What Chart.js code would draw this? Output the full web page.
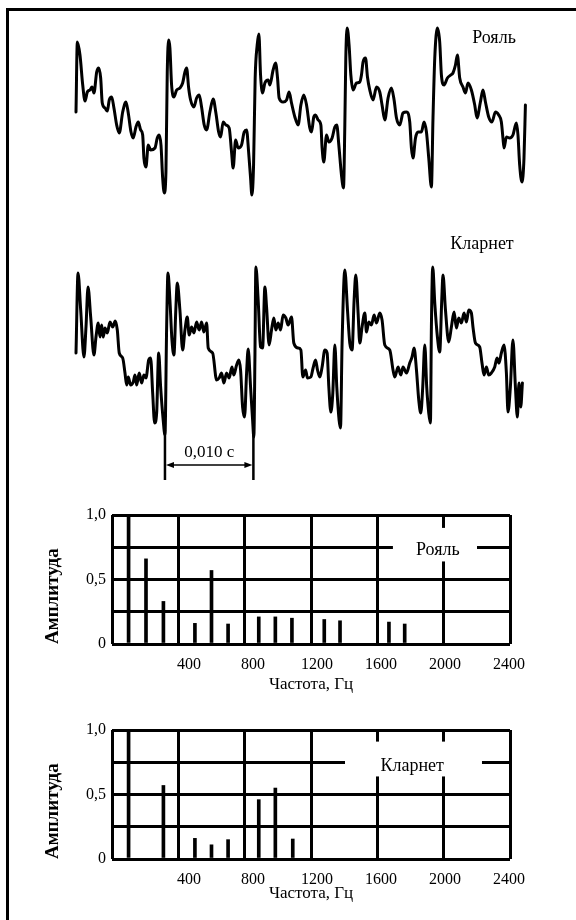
<!DOCTYPE html>
<html>
<head>
<meta charset="utf-8">
<script src="https://cdn.jsdelivr.net/npm/chart.js@4.4.0/dist/chart.umd.min.js"></script>
<style>
  body { margin: 0; width: 576px; height: 920px; overflow: hidden; background: #fff; position: relative; font-family: "Liberation Serif", serif; }
  canvas { position: absolute; }
  #frame { position: absolute; left: 6px; top: 8px; width: 600px; height: 950px; border-top: 3px solid #000; border-left: 3px solid #000; }
  .lbl { position: absolute; font-size: 18px; line-height: 18px; color: #000; transform: translate(-50%, -50%); white-space: nowrap; }
</style>
</head>
<body>
<div id="frame"></div>
<canvas id="pianoWave" width="472" height="200" style="left:66px;top:12px"></canvas>
<canvas id="clarWave" width="472" height="240" style="left:66px;top:250px"></canvas>
<canvas id="pianoSpec" width="576" height="210" style="left:0;top:495px"></canvas>
<canvas id="clarSpec" width="576" height="210" style="left:0;top:710px"></canvas>
<div class="lbl" style="left:494px;top:37px">Рояль</div>
<div class="lbl" style="left:482px;top:243px">Кларнет</div>
<script>
// Waveforms: time in ms, amplitude in arbitrary units
const pianoTime = [0.00,0.15,0.45,0.76,1.02,1.28,1.58,1.81,2.03,2.34,2.57,2.79,2.97,3.28,3.54,3.76,4.03,4.29,4.60,4.89,5.28,5.65,5.91,6.22,6.47,6.78,7.04,7.31,7.54,7.68,7.91,8.17,8.44,8.93,9.19,9.41,9.61,9.80,9.98,10.17,10.32,10.48,
  10.62,10.81,11.07,11.38,11.75,12.06,12.32,12.51,12.74,12.96,13.33,13.64,13.93,14.20,14.50,14.77,15.14,15.51,15.82,16.13,16.35,16.64,16.95,17.32,17.59,17.77,18.05,18.34,18.72,19.02,19.29,19.52,19.74,19.89,20.08,20.26,20.49,20.68,
  20.87,21.10,21.36,21.73,21.92,22.29,22.57,22.79,22.97,23.42,23.81,24.10,24.37,24.75,25.12,25.43,25.76,26.07,26.44,26.63,26.89,27.09,27.38,27.69,27.83,28.02,28.33,28.59,28.96,29.27,29.49,29.72,30.02,30.25,30.40,30.51,30.66,
  30.88,31.08,31.33,31.72,32.09,32.28,32.46,32.74,32.96,33.22,33.59,33.98,34.35,34.61,34.92,35.29,35.67,35.97,36.24,36.61,36.98,37.37,37.74,37.93,38.11,38.39,38.68,39.06,39.36,39.63,39.89,40.19,40.37,40.57,40.87,
  41.13,41.32,41.62,42.00,42.38,42.63,42.91,43.13,43.39,43.76,44.04,44.33,44.71,45.09,45.35,45.73,46.02,46.30,46.67,47.04,47.43,47.80,48.10,48.28,48.40,48.67,49.04,49.41,49.80,49.98,50.17,50.43,50.66,50.82];
const pianoAmp = [0,70,57,27,11,20,22,25,19,40,44,34,9,4,1,12,15,4,-13,-21,0,10,-1,-20,-26,-15,-10,-18,-23,-46,-55,-33,-38,-36,-26,-23,-33,-66,-81,-60,40,72,
  64,27,15,22,24,29,40,44,24,12,5,14,17,5,-13,-18,0,13,-1,-20,-25,-10,-13,-16,-40,-56,-28,-36,-33,-20,-18,-40,-66,-83,-53,34,67,78,
  37,19,29,32,27,42,49,34,14,10,12,20,9,-5,-13,7,17,7,-16,-20,-5,-3,-8,-13,-36,-50,-23,-30,-26,-15,-13,-33,-63,-76,-13,54,84,
  67,37,22,29,30,37,50,54,35,22,12,25,20,7,-8,14,24,12,-6,-13,-1,0,-10,-36,-46,-26,-20,-20,-10,-20,-46,-75,-6,54,84,
  70,37,27,34,37,39,47,57,34,25,19,29,22,7,-6,10,22,10,-5,-10,0,-3,-10,-26,-36,-25,-26,-23,-11,-23,-53,-70,-46,7];

const clarTime = [0.00,0.23,0.53,0.90,1.13,1.36,1.66,2.03,2.26,2.52,2.71,2.90,3.08,3.28,3.54,3.84,4.15,4.44,4.67,4.89,5.28,5.54,5.73,5.91,6.18,6.47,6.67,6.86,7.15,7.42,7.68,7.91,8.22,8.44,8.67,8.89,9.12,9.35,9.57,9.86,10.06,10.25,10.40,
  10.62,10.85,11.07,11.30,11.45,11.75,12.06,12.32,12.58,12.80,13.07,13.33,13.64,13.93,14.20,14.46,14.77,14.95,15.45,15.90,16.19,16.46,16.72,17.03,17.32,17.63,17.85,18.16,18.42,18.61,18.84,19.06,19.29,19.47,19.74,19.97,20.11,20.23,20.34,
  20.60,20.87,21.10,21.36,21.55,21.84,22.11,22.37,22.60,22.86,23.13,23.42,23.73,23.99,24.37,24.63,25.12,25.43,25.65,25.96,26.18,26.56,26.81,27.09,27.31,27.57,27.83,28.14,28.40,28.59,28.82,29.04,29.27,29.49,29.75,29.91,30.09,30.40,
  30.70,30.96,31.22,31.45,31.64,31.90,32.09,32.35,32.66,32.85,33.11,33.41,33.71,33.98,34.35,34.61,34.92,35.48,35.85,36.05,36.42,36.73,36.98,37.37,37.74,38.00,38.23,38.50,38.76,38.99,39.21,39.44,39.66,39.89,40.08,40.19,40.34,
  40.57,40.87,41.13,41.36,41.50,41.78,42.15,42.45,42.75,43.02,43.28,43.58,43.88,44.15,44.41,44.71,44.89,45.17,45.65,45.91,46.14,46.41,46.67,46.97,47.35,47.61,47.83,48.10,48.40,48.67,48.85,49.12,49.41,49.69,49.91,50.09,50.29,50.48];
const clarAmp = [-3,77,40,-7,23,63,33,-5,13,27,13,25,13,22,17,28,23,29,20,-3,-8,-23,-35,-27,-35,-32,-25,-35,-23,-33,-25,-28,-10,-8,-43,-73,-63,-3,-37,-70,-85,23,77,
  50,10,-5,43,67,40,0,20,33,15,23,17,28,20,28,18,27,2,-3,-30,-28,-23,-33,-23,-28,-17,-25,-15,-10,-20,-57,-67,-23,1,-37,-70,-87,-10,83,
  50,3,2,63,43,5,20,32,20,27,20,35,32,25,33,7,2,0,-27,-20,-28,-27,-18,-10,-20,-27,-17,0,-3,-37,-62,-43,5,-37,-70,-78,7,80,
  40,7,0,50,75,37,7,23,37,18,28,25,35,27,37,30,5,0,-20,-27,-17,-25,-17,-23,-13,-7,2,-20,-50,-63,-37,5,-37,-63,-73,23,83,
  47,13,-2,50,75,40,8,23,38,22,32,27,37,28,40,37,23,7,3,-13,-25,-17,-25,-23,-17,-8,-13,-3,5,-23,-62,-37,10,-37,-67,-33,-57,-33];

// Time marker (0,010 s)
const markerStart = 10.06;
const markerSpan = 10;

// Spectra: frequency in Hz, relative amplitude
const pianoFreq = [100, 205, 310, 500, 600, 700, 885, 985, 1085, 1280, 1375, 1670, 1765];
const pianoLevel = [1.0, 0.66, 0.33, 0.16, 0.57, 0.155, 0.21, 0.21, 0.2, 0.19, 0.18, 0.17, 0.155];
const clarFreq = [100, 310, 500, 600, 700, 885, 985, 1090];
const clarLevel = [1.0, 0.57, 0.16, 0.11, 0.15, 0.46, 0.55, 0.155];

const freqTicks = [400, 800, 1200, 1600, 2000, 2400];
const ampTicks = [0, 0.5, 1.0];

const serif = "'Liberation Serif', serif";
Chart.defaults.color = "#000";
Chart.defaults.font.family = serif;

const scaleMarker = {
  id: "scaleMarker",
  afterDatasetsDraw(chart) {
    const { ctx, chartArea, scales } = chart;
    const x0 = scales.x.getPixelForValue(markerStart);
    const x1 = scales.x.getPixelForValue(markerStart + markerSpan);
    const yTop = chartArea.bottom - 10, yBot = chartArea.bottom + 40, yArr = chartArea.bottom + 25;
    ctx.save();
    ctx.strokeStyle = "#000";
    ctx.fillStyle = "#000";
    ctx.lineWidth = 2.5;
    ctx.beginPath();
    ctx.moveTo(x0, yTop); ctx.lineTo(x0, yBot);
    ctx.moveTo(x1, yTop); ctx.lineTo(x1, yBot);
    ctx.stroke();
    ctx.lineWidth = 1.5;
    ctx.beginPath();
    ctx.moveTo(x0 + 6, yArr); ctx.lineTo(x1 - 6, yArr);
    ctx.stroke();
    ctx.beginPath();
    ctx.moveTo(x0 + 1, yArr); ctx.lineTo(x0 + 9, yArr - 3); ctx.lineTo(x0 + 9, yArr + 3); ctx.closePath();
    ctx.moveTo(x1 - 1, yArr); ctx.lineTo(x1 - 9, yArr - 3); ctx.lineTo(x1 - 9, yArr + 3); ctx.closePath();
    ctx.fill();
    ctx.font = "17px " + serif;
    ctx.textAlign = "center";
    ctx.textBaseline = "middle";
    ctx.fillText("0,010 с", (x0 + x1) / 2, yArr - 12);
    ctx.restore();
  }
};

function waveChart(id, time, amp, withMarker) {
  return new Chart(document.getElementById(id), {
    type: "scatter",
    data: {
      datasets: [{
        data: time.map((t, i) => ({ x: t, y: amp[i] })),
        showLine: true,
        borderColor: "#000",
        borderWidth: 3,
        pointRadius: 0,
        cubicInterpolationMode: "monotone",
        borderJoinStyle: "round",
        borderCapStyle: "round",
        clip: false
      }]
    },
    options: {
      responsive: false,
      animation: false,
      events: [],
      layout: { padding: { left: 10, right: 11, top: 10, bottom: withMarker ? 50 : 10 } },
      plugins: { legend: { display: false }, tooltip: { enabled: false } },
      scales: {
        x: { type: "linear", display: false, min: 0, max: 51 },
        y: { display: false, min: -90, max: 90 }
      }
    },
    plugins: withMarker ? [scaleMarker] : []
  });
}

function specLabel(text, box, at) {
  return {
    id: "specLabel",
    beforeDatasetsDraw(chart) {
      const { ctx, scales } = chart;
      const x0 = scales.x.getPixelForValue(box[0]), x1 = scales.x.getPixelForValue(box[1]);
      const y0 = scales.y.getPixelForValue(box[3]), y1 = scales.y.getPixelForValue(box[2]);
      ctx.save();
      ctx.fillStyle = "#fff";
      ctx.fillRect(x0, y0, x1 - x0, y1 - y0);
      ctx.fillStyle = "#000";
      ctx.font = "18px " + serif;
      ctx.textAlign = "center";
      ctx.textBaseline = "middle";
      ctx.fillText(text, scales.x.getPixelForValue(at[0]), scales.y.getPixelForValue(at[1]));
      ctx.restore();
    }
  };
}

function spectrumChart(id, freq, level, label, box, at, titleBottom) {
  return new Chart(document.getElementById(id), {
    type: "bar",
    data: {
      datasets: [{
        data: freq.map((f, i) => ({ x: f, y: level[i] })),
        backgroundColor: "#000",
        barThickness: 3,
        xAxisID: "x",
        yAxisID: "y"
      }]
    },
    options: {
      responsive: false,
      animation: false,
      events: [],
      layout: { padding: { left: 0, right: 66, top: 20, bottom: 0 } },
      plugins: { legend: { display: false }, tooltip: { enabled: false } },
      scales: {
        x: {
          type: "linear", min: 0, max: 2400, position: "bottom", weight: 0, offset: false,
          grid: { color: "#000", lineWidth: 3, drawTicks: false, offset: false },
          border: { display: false },
          ticks: { display: false, stepSize: 400 },
          afterFit(s) { s.height = 0; }
        },
        xl: {
          type: "linear", min: -81, max: 2406, position: "bottom", weight: 1, offset: false,
          grid: { display: false, drawTicks: false, offset: false },
          border: { display: false },
          ticks: { padding: 11, font: { size: 16 }, color: "#000", maxRotation: 0, autoSkip: false, callback: v => String(v) },
          afterBuildTicks(s) { s.ticks = freqTicks.map(v => ({ value: v })); },
          title: { display: true, text: "Частота, Гц", font: { size: 17 }, color: "#000", padding: { top: 0, bottom: titleBottom } },
          afterFit(s) { s.height = 61; }
        },
        y: {
          min: 0, max: 1, position: "left",
          grid: { color: "#000", lineWidth: 3, drawTicks: false },
          border: { display: false },
          ticks: {
            stepSize: 0.25, padding: 6, font: { size: 16 }, color: "#000",
            callback: v => ampTicks.includes(v) ? (v === 0 ? "0" : v.toFixed(1).replace(".", ",")) : ""
          },
          title: { display: true, text: "Амплитуда", align: "start", font: { size: 19, weight: "bold" }, color: "#000", padding: { top: 42, bottom: 0 } },
          afterFit(s) { s.width = 112; }
        }
      }
    },
    plugins: [specLabel(label, box, at)]
  });
}

waveChart("pianoWave", pianoTime, pianoAmp, false);
waveChart("clarWave", clarTime, clarAmp, true);
spectrumChart("pianoSpec", pianoFreq, pianoLevel, "Рояль", [1694, 2201, 0.64, 0.90], [1965, 0.73], 10);
spectrumChart("clarSpec", clarFreq, clarLevel, "Кларнет", [1405, 2231, 0.64, 0.91], [1810, 0.715], 16);
</script>
</body>
</html>
